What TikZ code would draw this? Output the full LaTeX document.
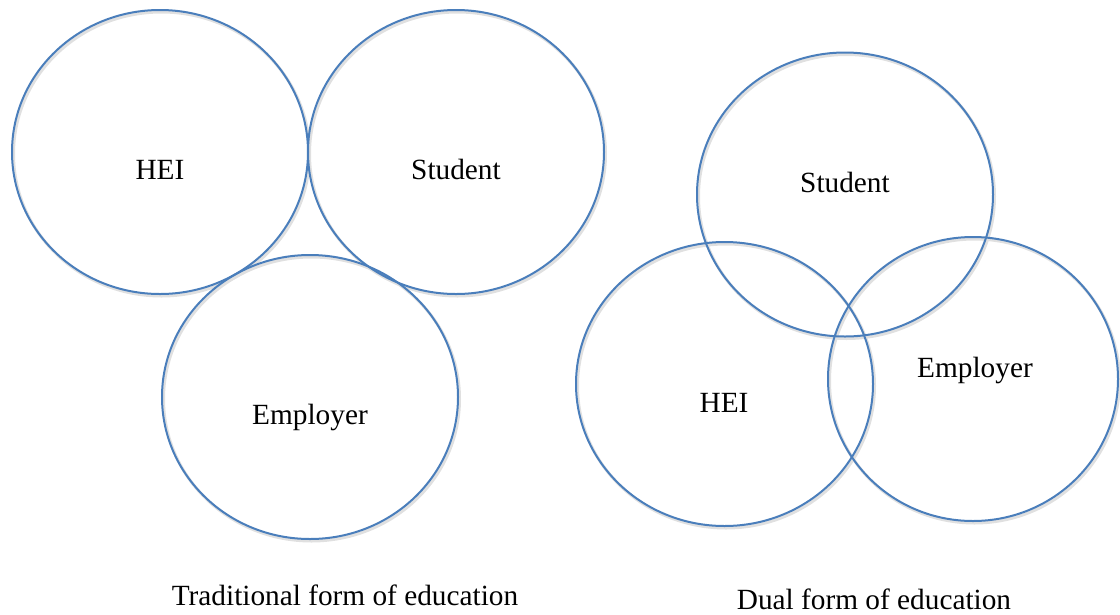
\documentclass[tikz,border=0pt]{standalone}
\usepackage{fontspec}
\setmainfont{Liberation Serif}
\usetikzlibrary{shapes.geometric}
\definecolor{ringblue}{HTML}{4A7EBB}
\tikzset{
  ring/.style={ellipse, draw=ringblue, line width=2pt, inner sep=0pt, minimum width=296pt, minimum height=284pt},
  ringshadow/.style={ellipse, draw=black!12, line width=3pt, inner sep=0pt, minimum width=296pt, minimum height=284pt},
  lbl/.style={anchor=base, inner sep=0pt, font=\fontsize{29.3}{34}\selectfont},
  captiontext/.style={anchor=base, inner sep=0pt, font=\fontsize{29.3}{34}\selectfont}
}
\begin{document}
\begin{tikzpicture}[x=1pt,y=-1pt]
\useasboundingbox (0,0) rectangle (1120,614);
% shadows
\foreach \cx/\cy/\w in {160/152/296, 456/152/296, 310/397/296, 845/194.5/296, 724.5/384/297, 973/379/290}{
  \node[ringshadow, minimum width=\w pt] at (\cx+1.5,\cy+2) {};
}
% ellipses
\node[ring] (hei1) at (160,152) {};
\node[ring] (stu1) at (456,152) {};
\node[ring] (emp1) at (310,397) {};
\node[ring] (stu2) at (845,194.5) {};
\node[ring, minimum width=297pt] (hei2) at (724.5,384) {};
\node[ring, minimum width=290pt] (emp2) at (973,379) {};
% labels
\node[lbl] (thei1) at (160,179) {HEI};
\node[lbl] (tstu1) at (456,179) {Student};
\node[lbl] (temp1) at (310,424) {Employer};
\node[lbl] (tstu2) at (845,192) {Student};
\node[lbl] (thei2) at (724,412) {HEI};
\node[lbl] (temp2) at (975,377) {Employer};
% captions
\node[captiontext] (cap1) at (345,605) {Traditional form of education};
\node[captiontext] (cap2) at (874,609.5) {Dual form of education};
\end{tikzpicture}
\end{document}
